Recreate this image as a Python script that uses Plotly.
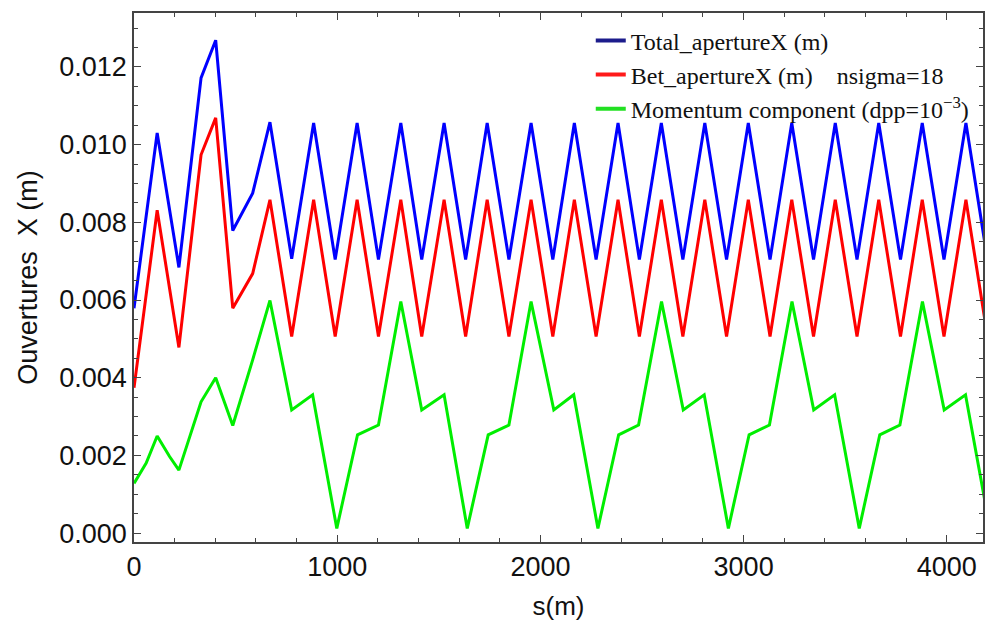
import plotly.graph_objects as go

# s positions (m) of vertices for total / betatron apertures
s_beta = [0, 114, 221, 330, 402, 486, 584, 669, 776, 884, 990, 1098, 1203, 1313,
          1416, 1526, 1632, 1738, 1845, 1954, 2061, 2167, 2274, 2382, 2487, 2595,
          2701, 2809, 2916, 3023, 3130, 3237, 3344, 3451, 3558, 3665, 3772, 3879,
          3986, 4094, 4200]

total_ap = [0.00579, 0.01030, 0.00684, 0.01172, 0.01269, 0.00779, 0.00875, 0.01058,
            0.00706, 0.01056, 0.00704, 0.01056, 0.00704, 0.01056, 0.00704, 0.01056,
            0.00704, 0.01056, 0.00704, 0.01056, 0.00704, 0.01056, 0.00704, 0.01056,
            0.00704, 0.01056, 0.00704, 0.01056, 0.00704, 0.01056, 0.00704, 0.01056,
            0.00704, 0.01056, 0.00704, 0.01056, 0.00704, 0.01056, 0.00704, 0.01056,
            0.00704]

bet_ap = [0.00374, 0.00831, 0.00478, 0.00974, 0.01069, 0.00579, 0.00668, 0.00858,
          0.00506, 0.00858, 0.00506, 0.00858, 0.00506, 0.00858, 0.00506, 0.00858,
          0.00506, 0.00858, 0.00506, 0.00858, 0.00506, 0.00858, 0.00506, 0.00858,
          0.00506, 0.00858, 0.00506, 0.00858, 0.00506, 0.00858, 0.00506, 0.00858,
          0.00506, 0.00858, 0.00506, 0.00858, 0.00506, 0.00858, 0.00506, 0.00858,
          0.00506]

# s positions (m) and values of momentum component
s_mom = [0, 60, 114, 175, 221, 330, 402, 486, 584, 669, 776, 879, 998, 1100, 1203,
         1313, 1416, 1526, 1640, 1743, 1845, 1954, 2066, 2164, 2283, 2385, 2483,
         2596, 2703, 2806, 2925, 3027, 3127, 3238, 3345, 3448, 3569, 3670, 3769,
         3880, 3987, 4092, 4212]

mom_ap = [0.00128, 0.00180, 0.00250, 0.00197, 0.00162, 0.00338, 0.00400, 0.00277,
          0.00446, 0.00599, 0.00317, 0.00356, 0.00012, 0.00253, 0.00278,
          0.00596, 0.00317, 0.00356, 0.00012, 0.00253, 0.00278,
          0.00596, 0.00317, 0.00356, 0.00012, 0.00253, 0.00278,
          0.00596, 0.00317, 0.00356, 0.00012, 0.00253, 0.00278,
          0.00596, 0.00317, 0.00356, 0.00012, 0.00253, 0.00278,
          0.00596, 0.00317, 0.00356, 0.00012]

names = ["Total_apertureX (m)", "Bet_apertureX (m)    nsigma=18",
         "Momentum component (dpp=10<sup>−3</sup>)"]
line_colors = ["#0000ff", "#ff0000", "#00ee00"]
legend_colors = ["#1c1c8c", "#ff1a1a", "#22e022"]

x_ticks = [0, 1000, 2000, 3000, 4000]
y_ticks = [0.000, 0.002, 0.004, 0.006, 0.008, 0.010, 0.012]

fig = go.Figure()
series = [(s_beta, total_ap), (s_beta, bet_ap), (s_mom, mom_ap)]
for (xs, ys), c in zip(series, line_colors):
    fig.add_trace(go.Scatter(x=xs, y=ys, mode="lines", showlegend=False,
                             line=dict(color=c, width=3)))
for n, c in zip(names, legend_colors):
    fig.add_trace(go.Scatter(x=[None], y=[None], mode="lines", name=n,
                             line=dict(color=c, width=4)))

frame = "#444444"
sans = "Liberation Sans, Arial, sans-serif"
fig.update_layout(
    width=985, height=623,
    margin=dict(l=134.4, r=0, t=13.3, b=81),
    paper_bgcolor="white", plot_bgcolor="white",
    font=dict(family=sans, size=28, color="#111111"),
    legend=dict(x=0.538, y=0.99, xanchor="left", yanchor="top",
                bgcolor="rgba(0,0,0,0)",
                font=dict(family="Liberation Serif, Times New Roman, serif", size=24,
                          color="#111111"),
                tracegroupgap=0, itemwidth=30),
    xaxis=dict(range=[0, 4178], tickvals=x_ticks, ticktext=[str(v) for v in x_ticks],
               showgrid=False, zeroline=False, showline=True, linecolor=frame,
               linewidth=1.5, mirror="allticks", ticks="inside", ticklen=7,
               tickwidth=1.3, tickcolor=frame, tickfont=dict(size=27),
               minor=dict(dtick=200, tick0=0, ticks="inside", ticklen=4,
                          tickcolor=frame, tickwidth=1.1),
               title=dict(text="s(m)", standoff=16, font=dict(size=26))),
    yaxis=dict(range=[-0.00023, 0.01339], tickvals=y_ticks,
               ticktext=["%.3f" % v for v in y_ticks],
               showgrid=False, zeroline=False, showline=True, linecolor=frame,
               linewidth=1.5, mirror="allticks", ticks="inside", ticklen=7,
               tickwidth=1.3, tickcolor=frame, tickfont=dict(size=27),
               minor=dict(dtick=0.0005, tick0=0, ticks="inside", ticklen=4,
                          tickcolor=frame, tickwidth=1.1),
               title=dict(text="Ouvertures  X (m)", standoff=14, font=dict(size=27))),
)

fig.write_html("out.html")
